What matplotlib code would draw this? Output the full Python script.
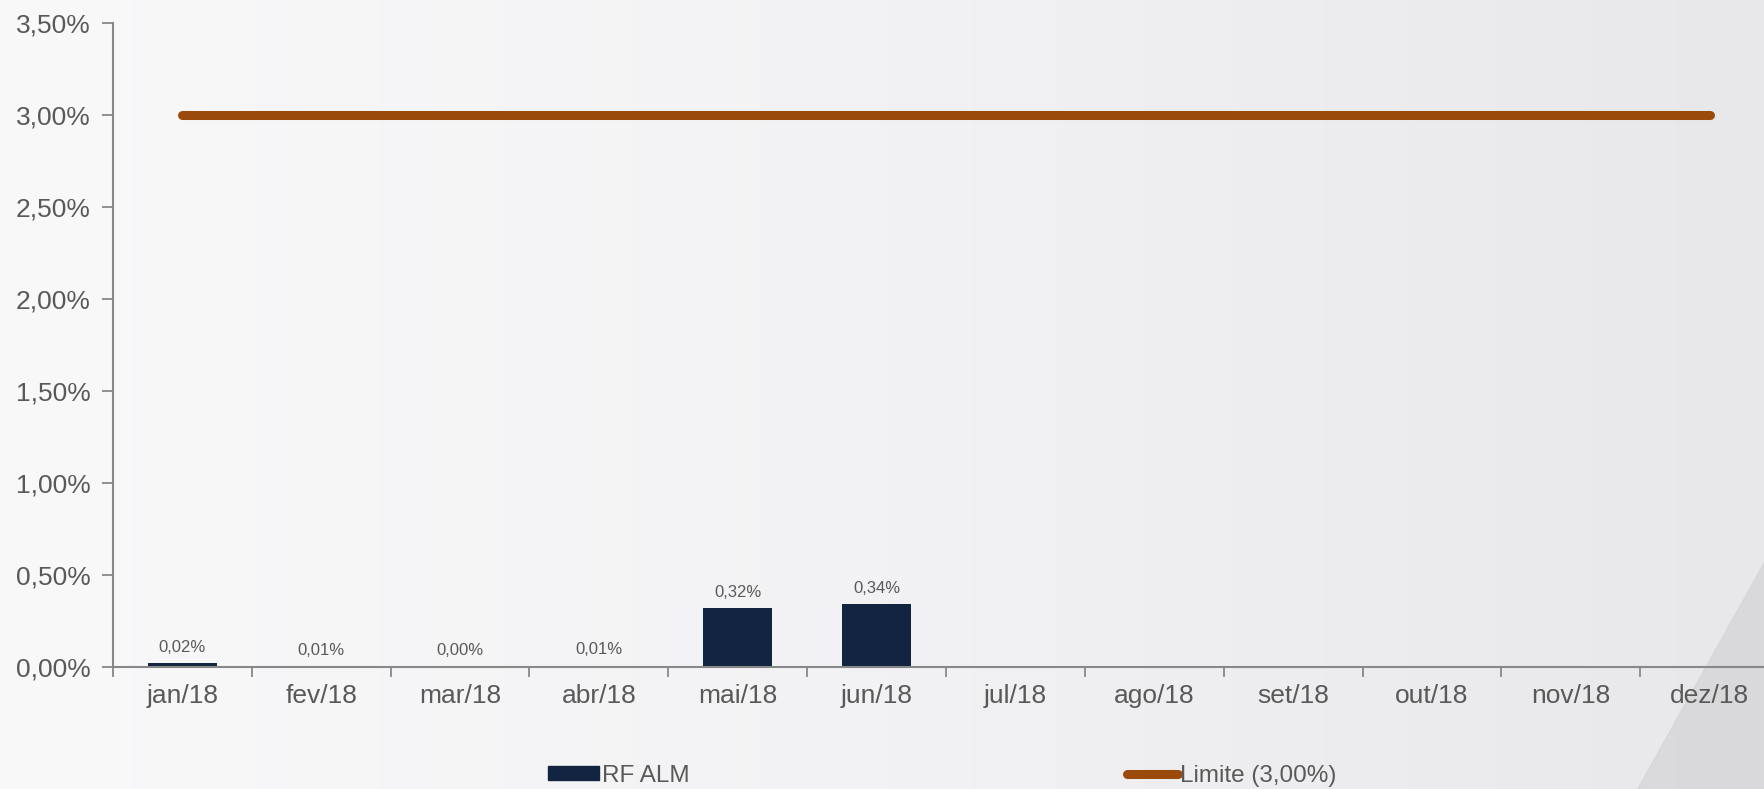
import numpy as np
import matplotlib.pyplot as plt
from matplotlib.patches import Patch, Polygon
from matplotlib.lines import Line2D
from matplotlib.ticker import FuncFormatter

plt.rcParams['font.family'] = ['Liberation Sans', 'DejaVu Sans']

months = ['jan/18', 'fev/18', 'mar/18', 'abr/18', 'mai/18', 'jun/18',
          'jul/18', 'ago/18', 'set/18', 'out/18', 'nov/18', 'dez/18']
rf_alm = [0.02, 0.006, 0.003, 0.008, 0.32, 0.34]
limite = [3.0] * 12

text_col = '#595959'
bar_col = '#12243f'
line_col = '#9a4a0a'

fig = plt.figure(figsize=(17.65, 7.89), dpi=100)

# background gradient and the darker corner shape
bg = fig.add_axes([0, 0, 1, 1], zorder=-2)
grad = np.linspace(0, 1, 256).reshape(1, -1)
bg.imshow(grad, aspect='auto', cmap=plt.matplotlib.colors.LinearSegmentedColormap.from_list(
    'bg', ['#f9f9fa', '#f2f2f4', '#e8e8ea']), extent=[0, 1, 0, 1])
bg.add_patch(Polygon([[1637 / 1765, 0], [1, 0], [1, 1 - 560 / 789]],
                     closed=True, color='#d4d4d6', alpha=0.7))
bg.set_xlim(0, 1)
bg.set_ylim(0, 1)
bg.axis('off')

ax = fig.add_axes([113 / 1765, 0.1546, 1666 / 1765, 0.8162])
ax.patch.set_alpha(0)

x = np.arange(len(months))
bars = ax.bar(x[:len(rf_alm)], rf_alm, width=0.5, color=bar_col, zorder=2)
for xi, v in zip(x, rf_alm):
    ax.annotate(f'{v:.2f}%'.replace('.', ','), (xi, v), xytext=(0, 6),
                textcoords='offset points', ha='center', va='bottom',
                fontsize=12, color=text_col)

ax.plot(x, limite, color=line_col, lw=6.5, solid_capstyle='round', zorder=3)

ax.set_xlim(-0.5, 11.5)
ax.set_ylim(0, 3.5)
ax.set_yticks(np.arange(0, 3.51, 0.5))
ax.yaxis.set_major_formatter(FuncFormatter(lambda v, p: f'{v:.2f}%'.replace('.', ',')))
ax.set_xticks(x)
ax.set_xticklabels(months)
ax.set_xticks(np.arange(-0.5, 12, 1), minor=True)
ax.tick_params(axis='x', which='major', length=0, pad=12, labelsize=19, labelcolor=text_col)
ax.tick_params(axis='x', which='minor', length=7, color='#888888', width=1.3)
ax.tick_params(axis='y', length=8, color='#888888', width=1.3, labelsize=19,
               labelcolor=text_col, pad=8)

for s in ['top', 'right']:
    ax.spines[s].set_visible(False)
for s in ['left', 'bottom']:
    ax.spines[s].set_color('#888888')
    ax.spines[s].set_linewidth(1.5)

handles = [Patch(color=bar_col, label='RF ALM'),
           Line2D([0], [0], color=line_col, lw=6.5, solid_capstyle='round',
                  label='Limite (3,00%)')]
fig.legend(handles=handles, loc='center', bbox_to_anchor=(0.534, 0.0165), ncol=2,
           frameon=False, fontsize=17.5, labelcolor=text_col, handlelength=2.1,
           handleheight=0.5, handletextpad=0.1, columnspacing=18.0)

fig.savefig('out.png', dpi=100)
